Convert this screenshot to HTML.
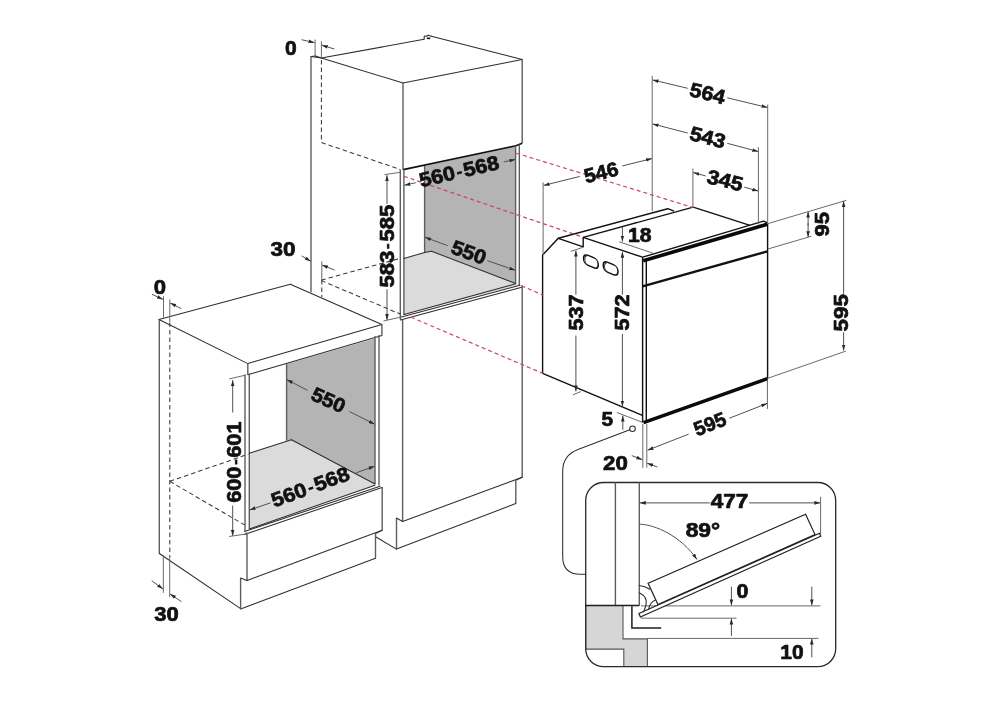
<!DOCTYPE html>
<html><head><meta charset="utf-8"><style>
html,body{margin:0;padding:0;background:#fff;width:1008px;height:707px;overflow:hidden}
svg{display:block;will-change:transform}

.k{stroke:#2e2e2e;stroke-width:1.05;fill:none;stroke-linecap:round}
.kv{stroke:#5e5e5e;stroke-width:1.4;fill:none}
.ov{stroke:#111;stroke-width:1.5;fill:none}
.ov2{stroke:#333;stroke-width:0.9;fill:none}
.o{stroke:#111;stroke-width:1.4;fill:none;stroke-linejoin:round}
.k15{stroke:#1e1e1e;stroke-width:1.5;fill:none}
.kf{stroke:#1e1e1e;stroke-width:1.2;fill:#fff}
.kr{stroke:#2a2a2a;stroke-width:1.3;fill:none}
.k2{stroke:#111;stroke-width:1.6;fill:none}
.k3{stroke:#111;stroke-width:2.4;fill:none}
.k4{stroke:#0a0a0a;stroke-width:3.6;fill:none}
.d{stroke:#505050;stroke-width:1.0;fill:none}
.e{stroke:#6a6a6a;stroke-width:1.0;fill:none}
.e2{stroke:#6a6a6a;stroke-width:1;fill:none}
.h{stroke:#3a3a3a;stroke-width:1.05;stroke-dasharray:4.5 3;fill:none}
.r{stroke:#cc4a5e;stroke-width:1.2;stroke-dasharray:4 3;fill:none}
.fg{fill:#b4b4b4;stroke:none}
.fl{fill:#dbdbdb;stroke:none}
.gi{fill:#d6d6d6;stroke:#555;stroke-width:1.1}
text{font-family:"Liberation Sans",sans-serif;font-weight:bold;fill:#111;stroke:#111;stroke-width:0.7;stroke-linejoin:round}

</style></head><body>
<svg width="1008" height="707" viewBox="0 0 1008 707">
<defs><marker id="ah" viewBox="0 0 10 6" refX="10" refY="3" markerWidth="6" markerHeight="4.2" orient="auto" markerUnits="userSpaceOnUse"><path d="M0,0 L10,3 L0,6 z" fill="#2a2a2a"/></marker></defs>
<polygon points="424.6,166 515.6,146 515.6,283.6 431.5,251.2 424.6,252.4" class="fg" />
<polygon points="403.9,258.6 424.6,252.4 431.5,251.2 515.6,283.6 519.3,285.0 404,314.4" class="fl" />
<polygon points="286.6,364.1 375,338.4 375,484 291.4,439.8 286.6,440.7" class="fg" />
<polygon points="249.3,453.3 291.4,439.8 375,484 375,485.2 249.4,529.1" class="fl" />
<line x1="311" y1="56.5" x2="315.5" y2="55.9" class="k" />
<line x1="315.5" y1="55.9" x2="321.4" y2="58" class="k" />
<line x1="321.4" y1="58" x2="424.1" y2="39.3" class="k" />
<line x1="424.1" y1="39.3" x2="424.3" y2="36.3" class="k" />
<line x1="424.3" y1="36.3" x2="426.7" y2="36.1" class="k" />
<line x1="426.7" y1="36.1" x2="428.3" y2="35.2" class="k" />
<line x1="428.3" y1="35.2" x2="431.4" y2="36.3" class="k" />
<line x1="431.4" y1="36.3" x2="522.2" y2="59.4" class="k" />
<line x1="522.2" y1="59.4" x2="403" y2="83" class="k" />
<line x1="403" y1="83" x2="321.4" y2="58" class="k" />
<line x1="426.8" y1="38.2" x2="430.2" y2="38.4" class="k2" />
<line x1="311" y1="56.5" x2="321.4" y2="58" class="k" />
<line x1="311" y1="56.5" x2="311" y2="292.3" class="kv" />
<line x1="403" y1="83" x2="403" y2="169.9" class="kv" />
<line x1="522.2" y1="59.4" x2="522.2" y2="143.2" class="kv" />
<polyline points="403.2,169.6 515.9,145.7 522.2,143.2" class="k2" />
<line x1="400.3" y1="169.8" x2="400.3" y2="317.5" class="kv" />
<line x1="403.9" y1="169.5" x2="403.9" y2="315" class="kv" />
<line x1="515.6" y1="145.7" x2="515.6" y2="284" class="kv" />
<line x1="519.3" y1="144.5" x2="519.3" y2="285.3" class="kv" />
<line x1="424.6" y1="166" x2="424.6" y2="252.4" class="kv" />
<line x1="403.9" y1="258.6" x2="424.6" y2="252.4" class="k" />
<line x1="424.6" y1="252.4" x2="431.5" y2="251.2" class="k" />
<line x1="431.5" y1="251.2" x2="515.6" y2="283.6" class="k" />
<line x1="404" y1="314.4" x2="515" y2="283.9" class="k" />
<line x1="400.4" y1="317.2" x2="520" y2="285.3" class="k" />
<line x1="400.4" y1="320" x2="521.8" y2="287.2" class="k" />
<line x1="400.4" y1="317.2" x2="400.4" y2="320" class="kv" />
<line x1="402.6" y1="320" x2="402.6" y2="521.5" class="kv" />
<line x1="522.2" y1="285.3" x2="522.2" y2="477.3" class="kv" />
<line x1="402.6" y1="521.5" x2="522.2" y2="477.3" class="k" />
<line x1="522.2" y1="477.3" x2="515.8" y2="480.4" class="k" />
<line x1="515.8" y1="480.4" x2="515.8" y2="503.6" class="kv" />
<line x1="515.8" y1="503.6" x2="396.5" y2="549.1" class="k" />
<line x1="396.5" y1="549.1" x2="396.5" y2="518" class="kv" />
<line x1="396.5" y1="518" x2="402.6" y2="521.5" class="k" />
<line x1="376" y1="537" x2="396.5" y2="549.1" class="k" />
<line x1="321.4" y1="60" x2="321.4" y2="142.5" class="h" />
<line x1="321.8" y1="280" x2="321.8" y2="297" class="h" />
<line x1="321.4" y1="142.5" x2="400.3" y2="169.5" class="h" />
<line x1="321.4" y1="280.1" x2="400.3" y2="258.3" class="h" />
<line x1="321.4" y1="280.6" x2="400.3" y2="314.1" class="h" />
<line x1="159" y1="319.5" x2="290.3" y2="284.3" class="k" />
<line x1="290.3" y1="284.3" x2="381.9" y2="324.6" class="k" />
<line x1="381.9" y1="324.6" x2="247.8" y2="363.6" class="k" />
<line x1="247.8" y1="363.6" x2="159" y2="319.5" class="k" />
<line x1="247.8" y1="363.6" x2="247.8" y2="374.7" class="kv" />
<line x1="247.8" y1="374.7" x2="381.9" y2="335.6" class="k" />
<line x1="381.9" y1="335.6" x2="381.9" y2="324.6" class="kv" />
<line x1="159.3" y1="319.5" x2="159.3" y2="553.5" class="kv" />
<line x1="159.3" y1="553.5" x2="240.6" y2="608.6" class="k" />
<line x1="245" y1="374.5" x2="245" y2="531" class="kv" />
<line x1="249.3" y1="373.5" x2="249.3" y2="529" class="kv" />
<line x1="375" y1="336" x2="375" y2="484" class="kv" />
<line x1="379" y1="335" x2="379" y2="485.5" class="kv" />
<line x1="286.6" y1="364.1" x2="286.6" y2="440.7" class="kv" />
<line x1="249.3" y1="453.3" x2="291.4" y2="439.8" class="k" />
<line x1="291.4" y1="439.8" x2="375" y2="484" class="k" />
<line x1="249.4" y1="529.1" x2="375" y2="485.2" class="k" />
<line x1="244.6" y1="531.6" x2="380" y2="486.2" class="k" />
<line x1="244.6" y1="534.6" x2="382" y2="487.4" class="k" />
<line x1="245.8" y1="533.2" x2="247" y2="533" class="k" />
<line x1="247" y1="533" x2="247" y2="580.6" class="kv" />
<line x1="247" y1="580.6" x2="382.2" y2="530.3" class="k" />
<line x1="382.2" y1="530.3" x2="382.2" y2="487" class="kv" />
<line x1="382.2" y1="530.3" x2="375.5" y2="533.6" class="k" />
<line x1="375.5" y1="533.6" x2="375.5" y2="558.2" class="kv" />
<line x1="375.5" y1="558.2" x2="240.6" y2="609" class="k" />
<line x1="240.6" y1="609" x2="240.6" y2="578" class="kv" />
<line x1="240.6" y1="578" x2="247" y2="580.6" class="k" />
<line x1="169.8" y1="322.4" x2="169.8" y2="557" class="h" />
<line x1="169.8" y1="481.3" x2="248.3" y2="454.2" class="h" />
<line x1="169.8" y1="481.3" x2="244.8" y2="525.1" class="h" />
<polyline points="542.6,373.3 542.6,255 558.3,238.3 583.2,246.9 583.2,237.4 642.5,257.2" class="o" />
<line x1="542.6" y1="373.3" x2="642.5" y2="415.4" class="o" />
<polyline points="558.3,238.3 667.8,208.7 674.1,211.1" class="o" />
<line x1="583.2" y1="237.4" x2="693.2" y2="207.1" class="o" />
<line x1="693.2" y1="207.1" x2="750" y2="225.3" class="o" />
<line x1="642.6" y1="257.2" x2="642.6" y2="422.5" class="o" />
<line x1="646.3" y1="260" x2="646.3" y2="422.5" class="o" />
<line x1="767.6" y1="223.5" x2="767.6" y2="378.5" class="o" />
<polyline points="642.6,257.2 763.5,221.2 767.6,222.8" class="o" />
<line x1="643.2" y1="260.8" x2="767.2" y2="224.2" class="k4" />
<line x1="642.6" y1="286.4" x2="767.5" y2="251.3" class="k3" />
<line x1="643.5" y1="422.6" x2="767.5" y2="378.6" class="k4" />
<g transform="matrix(1,0.42,0,1,590.9,261.6)"><rect x="-7.3" y="-5" width="14.6" height="10" rx="4.3" ry="4.3" class="ov"/><path d="M-3.2,4.6 Q-6,4.6 -6,0.5 Q-6,-3.4 -3.6,-4.2" class="ov2"/></g>
<g transform="matrix(1,0.42,0,1,610.6,268.4)"><rect x="-7.3" y="-5" width="14.6" height="10" rx="4.3" ry="4.3" class="ov"/><path d="M-3.2,4.6 Q-6,4.6 -6,0.5 Q-6,-3.4 -3.6,-4.2" class="ov2"/></g>
<line x1="516.2" y1="153.2" x2="693" y2="207.5" class="r" />
<line x1="403.9" y1="176.3" x2="583" y2="237.2" class="r" />
<line x1="521.4" y1="285.8" x2="542.6" y2="294.9" class="r" />
<line x1="411" y1="317.2" x2="542.6" y2="373.3" class="r" />
<line x1="315.1" y1="39.5" x2="315.1" y2="56" class="e" />
<line x1="321.4" y1="41.3" x2="321.4" y2="58" class="e" />
<line x1="301.55" y1="39.7" x2="314.6" y2="42.7" class="d" marker-end="url(#ah)"/>
<line x1="334.42" y1="49.02" x2="321.8" y2="45.2" class="d" marker-end="url(#ah)"/>
<line x1="301.65" y1="255.88" x2="310.8" y2="261.3" class="d" marker-end="url(#ah)"/>
<line x1="334.57" y1="270.07" x2="322" y2="265" class="d" marker-end="url(#ah)"/>
<line x1="321.8" y1="261.3" x2="321.8" y2="280" class="e" />
<line x1="384.5" y1="174.6" x2="400" y2="172.4" class="e" />
<line x1="383.5" y1="321" x2="400.4" y2="317.2" class="e" />
<line x1="387.0" y1="203.8" x2="387" y2="175.2" class="d" marker-end="url(#ah)"/>
<line x1="387.0" y1="289.2" x2="387" y2="320" class="d" marker-end="url(#ah)"/>
<line x1="415.76" y1="182.72" x2="404.4" y2="185.2" class="d" marker-end="url(#ah)"/>
<line x1="503.74" y1="161.97" x2="515.4" y2="159.5" class="d" marker-end="url(#ah)"/>
<line x1="447.69" y1="245.62" x2="425" y2="237.3" class="d" marker-end="url(#ah)"/>
<line x1="487.3" y1="260.61" x2="515.3" y2="270.3" class="d" marker-end="url(#ah)"/>
<line x1="163.5" y1="296.2" x2="163.5" y2="317.6" class="e" />
<line x1="169.8" y1="299.4" x2="169.8" y2="322" class="e" />
<line x1="151.87" y1="294.24" x2="163" y2="299.4" class="d" marker-end="url(#ah)"/>
<line x1="181.31" y1="308.61" x2="170.2" y2="303" class="d" marker-end="url(#ah)"/>
<line x1="163.3" y1="555" x2="163.3" y2="592.9" class="e" />
<line x1="169.7" y1="557" x2="169.7" y2="597.2" class="e" />
<line x1="151.74" y1="580.85" x2="163" y2="588.9" class="d" marker-end="url(#ah)"/>
<line x1="181.4" y1="601.6" x2="170" y2="594" class="d" marker-end="url(#ah)"/>
<line x1="229.2" y1="378.9" x2="245.8" y2="375.1" class="e" />
<line x1="229.2" y1="536.5" x2="245.8" y2="534" class="e" />
<line x1="232.7" y1="412.5" x2="232.7" y2="380.2" class="d" marker-end="url(#ah)"/>
<line x1="232.7" y1="505.5" x2="232.7" y2="535.8" class="d" marker-end="url(#ah)"/>
<line x1="307.6" y1="390.32" x2="286.8" y2="379.7" class="d" marker-end="url(#ah)"/>
<line x1="349.39" y1="411.49" x2="374.6" y2="424.2" class="d" marker-end="url(#ah)"/>
<line x1="270.6" y1="502.82" x2="249.6" y2="510" class="d" marker-end="url(#ah)"/>
<line x1="355.9" y1="472.9" x2="374.6" y2="466.3" class="d" marker-end="url(#ah)"/>
<line x1="543.1" y1="182.4" x2="543.1" y2="255" class="e" />
<line x1="652.2" y1="75.8" x2="652.2" y2="211.4" class="e" />
<line x1="579.75" y1="176.47" x2="543.6" y2="185.4" class="d" marker-end="url(#ah)"/>
<line x1="622.25" y1="165.93" x2="652" y2="158.6" class="d" marker-end="url(#ah)"/>
<line x1="767.7" y1="104.6" x2="767.7" y2="222" class="e" />
<line x1="758.4" y1="147.1" x2="758.4" y2="224.5" class="e" />
<line x1="692.9" y1="168.5" x2="692.9" y2="207" class="e" />
<line x1="687.75" y1="88.32" x2="652.6" y2="79.9" class="d" marker-end="url(#ah)"/>
<line x1="727.25" y1="97.78" x2="767.5" y2="107.5" class="d" marker-end="url(#ah)"/>
<line x1="687.74" y1="133.05" x2="652.6" y2="123.9" class="d" marker-end="url(#ah)"/>
<line x1="727.26" y1="143.34" x2="758.2" y2="151.5" class="d" marker-end="url(#ah)"/>
<line x1="705.73" y1="175.98" x2="693.2" y2="172.5" class="d" marker-end="url(#ah)"/>
<line x1="744.27" y1="187.1" x2="758.2" y2="191.1" class="d" marker-end="url(#ah)"/>
<line x1="622.4" y1="226.7" x2="622.4" y2="241.6" class="d" marker-end="url(#ah)"/>
<line x1="619.2" y1="241.8" x2="653" y2="253.2" class="e" />
<line x1="570.8" y1="251.4" x2="582.3" y2="247.5" class="e" />
<line x1="572.9" y1="394.8" x2="580.8" y2="391.6" class="e" />
<line x1="575.9" y1="294.7" x2="575.9" y2="250.6" class="d" marker-end="url(#ah)"/>
<line x1="575.9" y1="335.6" x2="575.9" y2="391.4" class="d" marker-end="url(#ah)"/>
<line x1="622.4" y1="294.7" x2="622.4" y2="251.8" class="d" marker-end="url(#ah)"/>
<line x1="622.4" y1="334.1" x2="622.4" y2="406.6" class="d" marker-end="url(#ah)"/>
<line x1="616.8" y1="412.5" x2="643.9" y2="422.9" class="e" />
<line x1="622.8" y1="429.8" x2="622.8" y2="415.6" class="d" marker-end="url(#ah)"/>
<line x1="642.8" y1="424" x2="642.8" y2="468" class="e" />
<line x1="646.8" y1="424" x2="646.8" y2="467.7" class="e" />
<line x1="631.82" y1="455.6" x2="642.4" y2="459.7" class="d" marker-end="url(#ah)"/>
<line x1="657.38" y1="467.03" x2="647.2" y2="463.2" class="d" marker-end="url(#ah)"/>
<line x1="767.4" y1="380" x2="767.4" y2="408.9" class="e" />
<line x1="688.68" y1="434.14" x2="647.6" y2="450.2" class="d" marker-end="url(#ah)"/>
<line x1="729.32" y1="418.26" x2="767.2" y2="403.4" class="d" marker-end="url(#ah)"/>
<line x1="768" y1="223.6" x2="846.4" y2="200.3" class="e" />
<line x1="768" y1="249" x2="811.4" y2="236.2" class="e" />
<line x1="768" y1="378.2" x2="845.9" y2="351.1" class="e" />
<line x1="808.1" y1="225.8" x2="808.1" y2="211.6" class="d" marker-end="url(#ah)"/>
<line x1="808.1" y1="223.2" x2="808.1" y2="237.2" class="d" marker-end="url(#ah)"/>
<line x1="843.6" y1="293.8" x2="843.6" y2="201" class="d" marker-end="url(#ah)"/>
<line x1="843.6" y1="332.2" x2="843.6" y2="350.6" class="d" marker-end="url(#ah)"/>
<circle cx="632.5" cy="428.75" r="2.8" class="k" fill="#fff"/>
<path d="M629.8,429.8 L578,449.4 Q562.7,455.2 562.7,471 L562.7,556.5 Q562.7,574.3 580.5,574.3 L585.7,574.3" class="k" />
<polygon points="585.7,605.5 623,605.5 623,638.9 647.4,638.9 647.4,666.5 623.8,666.5 623.8,649.1 585.7,649.1" class="gi" />
<rect x="585.7" y="482.5" width="250" height="184.2" rx="18" ry="18" class="kr"/>
<line x1="615.4" y1="482.5" x2="615.4" y2="605.5" class="kv" />
<line x1="639.3" y1="482.5" x2="639.3" y2="605.5" class="kv" />
<line x1="585.7" y1="605.5" x2="639.3" y2="605.5" class="k15" />
<polyline points="631.9,606.3 631.9,628 661.2,628" class="k15" />
<line x1="641" y1="605.9" x2="820.5" y2="605.9" class="e2" />
<line x1="641" y1="618.2" x2="736.5" y2="618.2" class="e2" />
<line x1="647.4" y1="638.4" x2="818.5" y2="638.4" class="e2" />
<polygon points="648.1,583.3 805.6,514.2 815,534.6 657.9,604.5" class="kf" />
<polygon points="638.9,613.5 819.5,533.3 820.8,536.3 640.4,617" class="kf" />
<path d="M639.3,585.4 Q645,586 649.8,589.3" class="k" />
<path d="M639.3,592.7 Q648,597 646,605 Q645,609 643.5,611.7" class="k" />
<path d="M648.6,609.2 Q650,602 655.4,599.9" class="k" />
<line x1="820.6" y1="496.7" x2="820.6" y2="535.2" class="e" />
<line x1="709.8" y1="502.9" x2="639.8" y2="502.9" class="d" marker-end="url(#ah)"/>
<line x1="749.2" y1="502.9" x2="820.3" y2="502.9" class="d" marker-end="url(#ah)"/>
<path d="M639.5,524.2 C655,524.5 681,536 697,559.5" class="d" fill="none" marker-end="url(#ah)"/>
<line x1="731.4" y1="586.6" x2="731.4" y2="605.4" class="d" marker-end="url(#ah)"/>
<line x1="811.8" y1="586.6" x2="811.8" y2="605.4" class="d" marker-end="url(#ah)"/>
<line x1="731.4" y1="635.9" x2="731.4" y2="618.6" class="d" marker-end="url(#ah)"/>
<line x1="811.8" y1="657.4" x2="811.8" y2="638.6" class="d" marker-end="url(#ah)"/>
<text x="290.75" y="54.80" font-size="20.0" text-anchor="middle" textLength="11.70" lengthAdjust="spacingAndGlyphs" transform="rotate(0.00 290.75 54.80)">0</text>
<text x="283.10" y="256.10" font-size="20.0" text-anchor="middle" textLength="25.00" lengthAdjust="spacingAndGlyphs" transform="rotate(0.00 283.10 256.10)">30</text>
<text x="393.70" y="246.10" font-size="20.0" text-anchor="middle" textLength="83.00" lengthAdjust="spacingAndGlyphs" transform="rotate(-90.00 393.70 246.10)">583<tspan dx="1.6" font-size="15" dy="-1.4">-</tspan><tspan dx="1.6" dy="1.4">585</tspan></text>
<text x="460.65" y="177.95" font-size="20.0" text-anchor="middle" textLength="81.56" lengthAdjust="spacingAndGlyphs" transform="rotate(-13.02 460.65 177.95)">560<tspan dx="1.6" font-size="15" dy="-1.4">-</tspan><tspan dx="1.6" dy="1.4">568</tspan></text>
<text x="466.51" y="258.83" font-size="20.0" text-anchor="middle" textLength="35.90" lengthAdjust="spacingAndGlyphs" transform="rotate(20.00 466.51 258.83)">550</text>
<text x="159.85" y="294.05" font-size="20.0" text-anchor="middle" textLength="12.30" lengthAdjust="spacingAndGlyphs" transform="rotate(0.00 159.85 294.05)">0</text>
<text x="166.55" y="620.50" font-size="20.0" text-anchor="middle" textLength="24.50" lengthAdjust="spacingAndGlyphs" transform="rotate(0.00 166.55 620.50)">30</text>
<text x="241.15" y="462.15" font-size="20.0" text-anchor="middle" textLength="81.30" lengthAdjust="spacingAndGlyphs" transform="rotate(-90.00 241.15 462.15)">600<tspan dx="1.6" font-size="15" dy="-1.4">-</tspan><tspan dx="1.6" dy="1.4">601</tspan></text>
<text x="325.65" y="406.39" font-size="20.0" text-anchor="middle" textLength="35.03" lengthAdjust="spacingAndGlyphs" transform="rotate(24.00 325.65 406.39)">550</text>
<text x="312.70" y="493.40" font-size="20.0" text-anchor="middle" textLength="81.82" lengthAdjust="spacingAndGlyphs" transform="rotate(-20.32 312.70 493.40)">560<tspan dx="1.6" font-size="15" dy="-1.4">-</tspan><tspan dx="1.6" dy="1.4">568</tspan></text>
<text x="602.79" y="179.19" font-size="20.0" text-anchor="middle" textLength="34.61" lengthAdjust="spacingAndGlyphs" transform="rotate(-14.00 602.79 179.19)">546</text>
<text x="705.97" y="100.01" font-size="20.0" text-anchor="middle" textLength="35.89" lengthAdjust="spacingAndGlyphs" transform="rotate(13.50 705.97 100.01)">564</text>
<text x="705.99" y="143.97" font-size="20.0" text-anchor="middle" textLength="36.30" lengthAdjust="spacingAndGlyphs" transform="rotate(14.60 705.99 143.97)">543</text>
<text x="723.46" y="187.09" font-size="20.0" text-anchor="middle" textLength="36.56" lengthAdjust="spacingAndGlyphs" transform="rotate(14.00 723.46 187.09)">345</text>
<text x="639.85" y="241.80" font-size="20.0" text-anchor="middle" textLength="23.50" lengthAdjust="spacingAndGlyphs" transform="rotate(0.00 639.85 241.80)">18</text>
<text x="583.40" y="312.45" font-size="20.0" text-anchor="middle" textLength="36.30" lengthAdjust="spacingAndGlyphs" transform="rotate(-90.00 583.40 312.45)">537</text>
<text x="629.00" y="312.45" font-size="20.0" text-anchor="middle" textLength="36.30" lengthAdjust="spacingAndGlyphs" transform="rotate(-90.00 629.00 312.45)">572</text>
<text x="607.40" y="426.15" font-size="20.0" text-anchor="middle" textLength="11.60" lengthAdjust="spacingAndGlyphs" transform="rotate(0.00 607.40 426.15)">5</text>
<text x="615.40" y="470.18" font-size="20.0" text-anchor="middle" textLength="24.80" lengthAdjust="spacingAndGlyphs" transform="rotate(0.00 615.40 470.18)">20</text>
<text x="712.45" y="430.52" font-size="20.0" text-anchor="middle" textLength="33.31" lengthAdjust="spacingAndGlyphs" transform="rotate(-21.40 712.45 430.52)">595</text>
<text x="828.60" y="224.15" font-size="20.0" text-anchor="middle" textLength="24.50" lengthAdjust="spacingAndGlyphs" transform="rotate(-90.00 828.60 224.15)">95</text>
<text x="848.30" y="312.85" font-size="20.0" text-anchor="middle" textLength="37.50" lengthAdjust="spacingAndGlyphs" transform="rotate(-90.00 848.30 312.85)">595</text>
<text x="729.48" y="508.15" font-size="20.0" text-anchor="middle" textLength="37.65" lengthAdjust="spacingAndGlyphs" transform="rotate(0.00 729.48 508.15)">477</text>
<text x="702.92" y="536.70" font-size="20.0" text-anchor="middle" textLength="34.55" lengthAdjust="spacingAndGlyphs" transform="rotate(0.00 702.92 536.70)">89°</text>
<text x="742.55" y="598.10" font-size="20.0" text-anchor="middle" textLength="11.90" lengthAdjust="spacingAndGlyphs" transform="rotate(0.00 742.55 598.10)">0</text>
<text x="791.95" y="658.95" font-size="20.0" text-anchor="middle" textLength="23.30" lengthAdjust="spacingAndGlyphs" transform="rotate(0.00 791.95 658.95)">10</text>
</svg>
</body></html>
